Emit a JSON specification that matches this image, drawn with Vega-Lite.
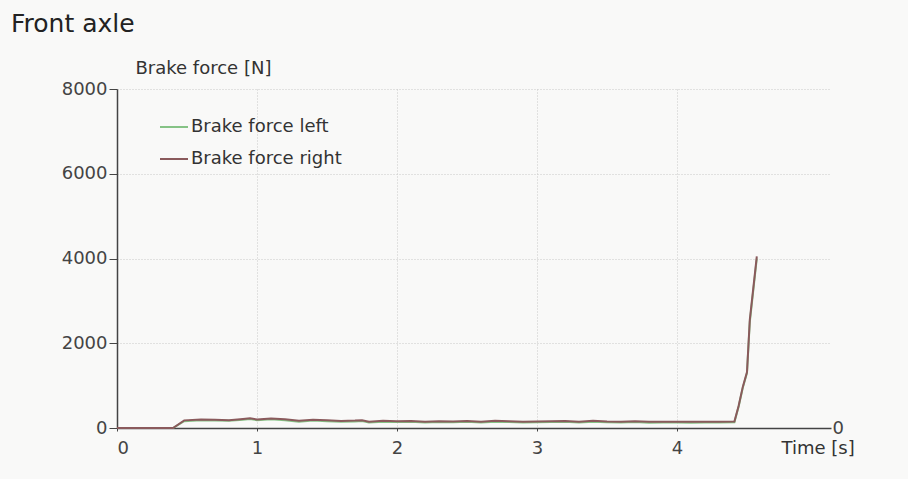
{
  "$schema": "https://vega.github.io/schema/vega-lite/v6.json",
  "width": 714,
  "height": 339,
  "autosize": "none",
  "padding": {"left": 117, "top": 89, "right": 77, "bottom": 51},
  "background": "#f9f9f8",
  "title": {
    "text": "Front axle",
    "anchor": "start",
    "frame": "group",
    "dx": -106,
    "offset": 22,
    "fontSize": 25,
    "fontWeight": "normal",
    "font": "DejaVu Sans",
    "color": "#222"
  },
  "config": {
    "view": {"stroke": null},
    "font": "DejaVu Sans",
    "axis": {
      "labelFont": "DejaVu Sans",
      "titleFont": "DejaVu Sans",
      "labelFontSize": 18,
      "labelColor": "#444",
      "titleFontSize": 18,
      "titleFontWeight": "normal",
      "titleColor": "#333",
      "gridColor": "#c8c8c8",
      "gridDash": [1, 2],
      "domainColor": "#444",
      "domainWidth": 1.5,
      "tickColor": "#444"
    }
  },
  "data": {
    "values": [
      {"t": 0, "force": 0, "side": "Brake force left"},
      {"t": 0.4, "force": 0, "side": "Brake force left"},
      {"t": 0.48, "force": 160, "side": "Brake force left"},
      {"t": 0.6, "force": 180, "side": "Brake force left"},
      {"t": 0.7, "force": 175, "side": "Brake force left"},
      {"t": 0.8, "force": 170, "side": "Brake force left"},
      {"t": 0.9, "force": 195, "side": "Brake force left"},
      {"t": 0.95, "force": 210, "side": "Brake force left"},
      {"t": 1.0, "force": 185, "side": "Brake force left"},
      {"t": 1.1, "force": 205, "side": "Brake force left"},
      {"t": 1.2, "force": 185, "side": "Brake force left"},
      {"t": 1.3, "force": 150, "side": "Brake force left"},
      {"t": 1.4, "force": 175, "side": "Brake force left"},
      {"t": 1.5, "force": 160, "side": "Brake force left"},
      {"t": 1.6, "force": 145, "side": "Brake force left"},
      {"t": 1.7, "force": 155, "side": "Brake force left"},
      {"t": 1.75, "force": 165, "side": "Brake force left"},
      {"t": 1.8, "force": 130, "side": "Brake force left"},
      {"t": 1.9, "force": 150, "side": "Brake force left"},
      {"t": 2.0, "force": 140, "side": "Brake force left"},
      {"t": 2.1, "force": 145, "side": "Brake force left"},
      {"t": 2.2, "force": 130, "side": "Brake force left"},
      {"t": 2.3, "force": 140, "side": "Brake force left"},
      {"t": 2.4, "force": 135, "side": "Brake force left"},
      {"t": 2.5, "force": 145, "side": "Brake force left"},
      {"t": 2.6, "force": 130, "side": "Brake force left"},
      {"t": 2.7, "force": 150, "side": "Brake force left"},
      {"t": 2.8, "force": 140, "side": "Brake force left"},
      {"t": 2.9, "force": 130, "side": "Brake force left"},
      {"t": 3.0, "force": 135, "side": "Brake force left"},
      {"t": 3.1, "force": 140, "side": "Brake force left"},
      {"t": 3.2, "force": 145, "side": "Brake force left"},
      {"t": 3.3, "force": 130, "side": "Brake force left"},
      {"t": 3.4, "force": 150, "side": "Brake force left"},
      {"t": 3.5, "force": 135, "side": "Brake force left"},
      {"t": 3.6, "force": 130, "side": "Brake force left"},
      {"t": 3.7, "force": 140, "side": "Brake force left"},
      {"t": 3.8, "force": 125, "side": "Brake force left"},
      {"t": 3.9, "force": 130, "side": "Brake force left"},
      {"t": 4.0, "force": 130, "side": "Brake force left"},
      {"t": 4.1, "force": 125, "side": "Brake force left"},
      {"t": 4.2, "force": 130, "side": "Brake force left"},
      {"t": 4.3, "force": 130, "side": "Brake force left"},
      {"t": 4.41, "force": 135, "side": "Brake force left"},
      {"t": 4.44, "force": 500, "side": "Brake force left"},
      {"t": 4.47, "force": 950, "side": "Brake force left"},
      {"t": 4.5, "force": 1300, "side": "Brake force left"},
      {"t": 4.52, "force": 2500, "side": "Brake force left"},
      {"t": 4.57, "force": 4000, "side": "Brake force left"},
      {"t": 0, "force": 0, "side": "Brake force right"},
      {"t": 0.4, "force": 0, "side": "Brake force right"},
      {"t": 0.48, "force": 180, "side": "Brake force right"},
      {"t": 0.6, "force": 200, "side": "Brake force right"},
      {"t": 0.7, "force": 195, "side": "Brake force right"},
      {"t": 0.8, "force": 185, "side": "Brake force right"},
      {"t": 0.9, "force": 215, "side": "Brake force right"},
      {"t": 0.95, "force": 230, "side": "Brake force right"},
      {"t": 1.0, "force": 200, "side": "Brake force right"},
      {"t": 1.1, "force": 225, "side": "Brake force right"},
      {"t": 1.2, "force": 205, "side": "Brake force right"},
      {"t": 1.3, "force": 170, "side": "Brake force right"},
      {"t": 1.4, "force": 195, "side": "Brake force right"},
      {"t": 1.5, "force": 180, "side": "Brake force right"},
      {"t": 1.6, "force": 165, "side": "Brake force right"},
      {"t": 1.7, "force": 175, "side": "Brake force right"},
      {"t": 1.75, "force": 185, "side": "Brake force right"},
      {"t": 1.8, "force": 150, "side": "Brake force right"},
      {"t": 1.9, "force": 170, "side": "Brake force right"},
      {"t": 2.0, "force": 160, "side": "Brake force right"},
      {"t": 2.1, "force": 165, "side": "Brake force right"},
      {"t": 2.2, "force": 150, "side": "Brake force right"},
      {"t": 2.3, "force": 160, "side": "Brake force right"},
      {"t": 2.4, "force": 155, "side": "Brake force right"},
      {"t": 2.5, "force": 165, "side": "Brake force right"},
      {"t": 2.6, "force": 150, "side": "Brake force right"},
      {"t": 2.7, "force": 170, "side": "Brake force right"},
      {"t": 2.8, "force": 160, "side": "Brake force right"},
      {"t": 2.9, "force": 150, "side": "Brake force right"},
      {"t": 3.0, "force": 155, "side": "Brake force right"},
      {"t": 3.1, "force": 160, "side": "Brake force right"},
      {"t": 3.2, "force": 165, "side": "Brake force right"},
      {"t": 3.3, "force": 150, "side": "Brake force right"},
      {"t": 3.4, "force": 170, "side": "Brake force right"},
      {"t": 3.5, "force": 155, "side": "Brake force right"},
      {"t": 3.6, "force": 150, "side": "Brake force right"},
      {"t": 3.7, "force": 160, "side": "Brake force right"},
      {"t": 3.8, "force": 145, "side": "Brake force right"},
      {"t": 3.9, "force": 150, "side": "Brake force right"},
      {"t": 4.0, "force": 150, "side": "Brake force right"},
      {"t": 4.1, "force": 145, "side": "Brake force right"},
      {"t": 4.2, "force": 150, "side": "Brake force right"},
      {"t": 4.3, "force": 150, "side": "Brake force right"},
      {"t": 4.41, "force": 155, "side": "Brake force right"},
      {"t": 4.44, "force": 520, "side": "Brake force right"},
      {"t": 4.47, "force": 970, "side": "Brake force right"},
      {"t": 4.5, "force": 1320, "side": "Brake force right"},
      {"t": 4.52, "force": 2550, "side": "Brake force right"},
      {"t": 4.57, "force": 4050, "side": "Brake force right"}
    ]
  },
  "encoding": {
    "x": {
      "field": "t",
      "type": "quantitative",
      "scale": {"domain": [0, 5.1], "nice": false, "zero": true},
      "axis": {
        "values": [0, 1, 2, 3, 4],
        "format": "d",
        "title": "Time [s]",
        "titleX": 664,
        "titleY": 20,
        "titleAlign": "left",
        "titleBaseline": "middle",
        "tickSize": 3,
        "labelPadding": 8,
        "grid": true
      }
    },
    "color": {
      "field": "side",
      "type": "nominal",
      "scale": {
        "domain": ["Brake force left", "Brake force right"],
        "range": ["#86c386", "#8a5a5c"]
      },
      "legend": {
        "title": null,
        "orient": "none",
        "legendX": 42,
        "legendY": 23,
        "symbolType": "stroke",
        "symbolSize": 784,
        "symbolStrokeWidth": 2,
        "labelFontSize": 18,
        "labelFont": "DejaVu Sans",
        "labelColor": "#333",
        "rowPadding": 8,
        "labelOffset": 2
      }
    }
  },
  "layer": [
    {
      "transform": [{"filter": "datum.side === 'Brake force left'"}],
      "mark": {"type": "line", "strokeWidth": 2},
      "encoding": {
        "y": {
          "field": "force",
          "type": "quantitative",
          "scale": {"domain": [0, 8000], "nice": false},
          "axis": {
            "values": [0, 2000, 4000, 6000, 8000],
            "format": "d",
            "title": "Brake force [N]",
            "titleAngle": 0,
            "titleX": 18,
            "titleY": -21,
            "titleAlign": "left",
            "titleBaseline": "middle",
            "tickSize": 8,
            "labelPadding": 2,
            "grid": true
          }
        }
      }
    },
    {
      "transform": [{"filter": "datum.side === 'Brake force right'"}],
      "mark": {"type": "line", "strokeWidth": 2},
      "encoding": {
        "y": {
          "field": "force",
          "type": "quantitative",
          "axis": {
            "orient": "right",
            "values": [0],
            "format": "d",
            "title": null,
            "domain": false,
            "ticks": false,
            "grid": false,
            "labelPadding": 1,
            "labelBaseline": "middle"
          }
        }
      }
    }
  ],
  "resolve": {"axis": {"y": "independent"}}
}
